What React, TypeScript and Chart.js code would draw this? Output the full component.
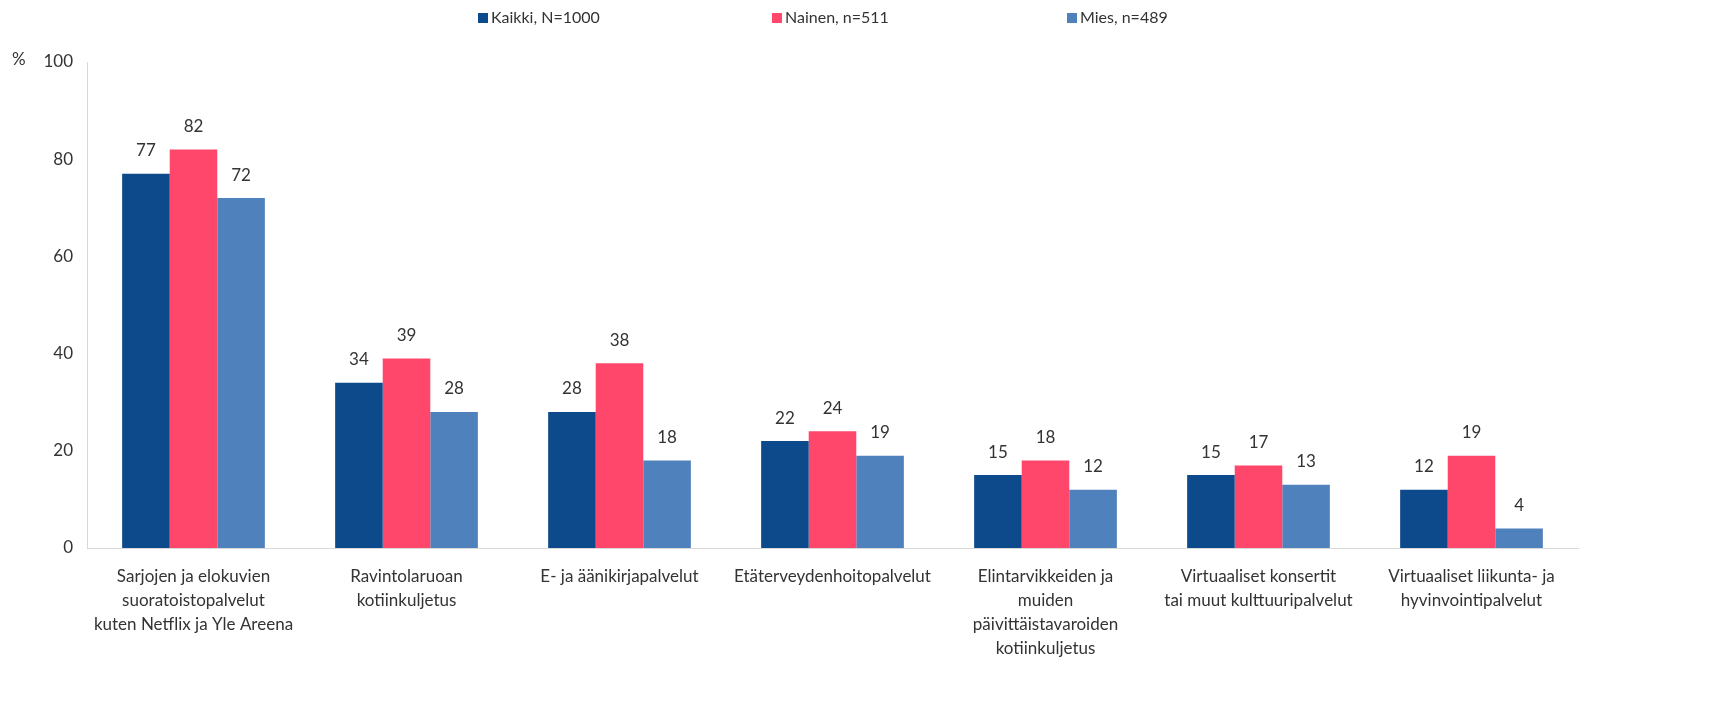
import React, { useEffect, useRef } from "react";
import { Chart, registerables } from "chart.js";

Chart.register(...registerables);

const categories: string[][] = [
  ["Sarjojen ja elokuvien", "suoratoistopalvelut", "kuten Netflix ja Yle Areena"],
  ["Ravintolaruoan", "kotiinkuljetus"],
  ["E- ja äänikirjapalvelut"],
  ["Etäterveydenhoitopalvelut"],
  ["Elintarvikkeiden ja", "muiden", "päivittäistavaroiden", "kotiinkuljetus"],
  ["Virtuaaliset konsertit", "tai muut kulttuuripalvelut"],
  ["Virtuaaliset liikunta- ja", "hyvinvointipalvelut"],
];

const seriesNames = ["Kaikki, N=1000", "Nainen, n=511", "Mies, n=489"];
const kaikki = [77, 34, 28, 22, 15, 15, 12];
const nainen = [82, 39, 38, 24, 18, 17, 19];
const mies = [72, 28, 18, 19, 12, 13, 4];
const yTicks = [0, 20, 40, 60, 80, 100];

const COLORS = ["#0D4A8B", "#FF476C", "#4F81BD"];
const FONT = "Lato, 'Noto Sans', sans-serif";
const TEXT = "#333333";

const overlayPlugin = {
  id: "overlay",
  afterDatasetsDraw(chart: any) {
    const ctx = chart.ctx;
    ctx.save();
    ctx.font = `17px ${FONT}`;
    ctx.fillStyle = TEXT;
    ctx.textAlign = "center";
    ctx.textBaseline = "middle";
    chart.data.datasets.forEach((ds: any, i: number) => {
      const meta = chart.getDatasetMeta(i);
      meta.data.forEach((bar: any, j: number) => {
        ctx.fillText(String(ds.data[j]), bar.x, bar.y - 23);
      });
    });
    // % unit label
    ctx.textAlign = "left";
    ctx.fillText("%", 4, chart.chartArea.top - 2);
    // legend
    ctx.font = `16px ${FONT}`;
    const xs = [470, 764, 1059];
    const ly = 10;
    chart.data.datasets.forEach((ds: any, i: number) => {
      ctx.fillStyle = ds.backgroundColor;
      ctx.fillRect(xs[i], ly - 5, 10, 10);
      ctx.fillStyle = TEXT;
      ctx.textAlign = "left";
      ctx.fillText(ds.label, xs[i] + 13, ly);
    });
    ctx.restore();
  },
};

export default function App() {
  const ref = useRef<HTMLCanvasElement | null>(null);
  useEffect(() => {
    if (!ref.current) return;
    const chart = new Chart(ref.current, {
      type: "bar",
      data: {
        labels: categories,
        datasets: [kaikki, nainen, mies].map((d, i) => ({
          label: seriesNames[i],
          data: d,
          backgroundColor: COLORS[i],
          borderWidth: 0,
          categoryPercentage: 0.67,
          barPercentage: 1,
        })),
      },
      options: {
        animation: false,
        responsive: true,
        maintainAspectRatio: false,
        layout: { padding: { top: 54, right: 129, left: 0, bottom: 0 } },
        plugins: {
          legend: { display: false },
          tooltip: { enabled: false },
        },
        scales: {
          x: {
            grid: { display: false, drawTicks: false },
            border: { color: "#D9D9D9", width: 1 },
            ticks: {
              color: TEXT,
              font: { family: FONT, size: 17, lineHeight: 1.41 },
              padding: 17,
              maxRotation: 0,
              autoSkip: false,
            },
            afterFit: (s: any) => {
              s.height = 158;
            },
          },
          y: {
            min: 0,
            max: 100,
            afterBuildTicks: (s: any) => {
              s.ticks = yTicks.map((v) => ({ value: v }));
            },
            grid: { display: false, drawTicks: false },
            border: { color: "#D9D9D9", width: 1 },
            ticks: {
              color: TEXT,
              font: { family: FONT, size: 17 },
              padding: 14,
            },
            afterFit: (s: any) => {
              s.width = 79;
            },
          },
        },
      },
      plugins: [overlayPlugin],
    });
    return () => chart.destroy();
  }, []);
  return (
    <div style={{ width: 1699, height: 698, position: "relative" }}>
      <canvas ref={ref} />
    </div>
  );
}
